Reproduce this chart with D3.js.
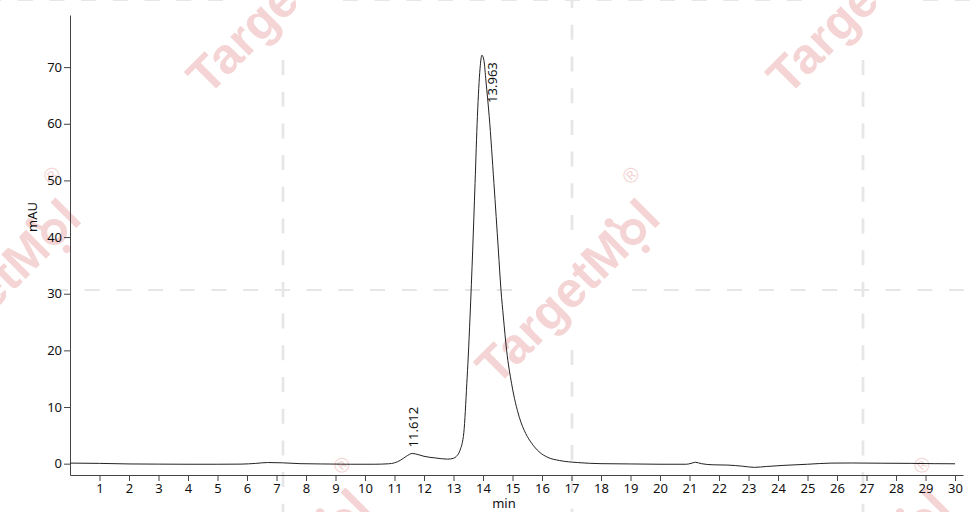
<!DOCTYPE html>
<html>
<head>
<meta charset="utf-8">
<script src="https://cdn.jsdelivr.net/npm/d3@7"></script>
<style>
  body { margin: 0; background: #fff; }
  svg { display: block; font-family: "Noto Sans", sans-serif; }
</style>
</head>
<body>
<div id="chart"></div>
<script>
// chromatogram trace (min, mAU)
const retentionTimes = [0, 1, 2, 3, 4, 5, 5.8, 6.3, 6.7, 7.2, 7.8, 8.5, 9.5, 10.3, 10.8,
  11.0, 11.2, 11.4, 11.6, 11.8, 12.0, 12.4, 12.8, 13.0, 13.1, 13.22, 13.35, 13.45, 13.5,
  13.56, 13.65, 13.73, 13.81, 13.9, 13.963, 14.03, 14.1, 14.21, 14.37, 14.52, 14.61, 14.69,
  14.8, 14.97, 15.23, 15.45, 15.65, 15.9, 16.2, 16.6, 17.2, 18, 19, 20, 20.9, 21.05, 21.2,
  21.4, 21.8, 22.3, 22.8, 23.2, 23.6, 24.2, 25, 25.8, 26.5, 27.5, 28.5, 29.3, 30];
const absorbance = [0.1, 0.05, -0.05, -0.08, -0.1, -0.1, -0.08, 0.05, 0.2, 0.15, 0.0,
  -0.05, -0.1, -0.1, -0.02, 0.15, 0.6, 1.3, 1.8, 1.6, 1.3, 1.0, 0.8, 0.95, 1.3, 2.35,
  5.5, 14.1, 19, 25.9, 37.7, 49.5, 61.3, 69.8, 72.1, 71.2, 67.5, 61.3, 49.5, 37.7, 30.6,
  25.9, 20, 14.1, 8.2, 5.3, 3.6, 2.1, 1.1, 0.55, 0.2, 0.0, -0.05, -0.1, -0.1, 0.05, 0.25,
  0.0, -0.2, -0.25, -0.45, -0.65, -0.5, -0.3, -0.1, 0.1, 0.12, 0.08, 0.05, 0.0, -0.02];

const peakTimes = [11.612, 13.963];
const peakHeights = [1.8, 72.1];
const peakLabels = ['11.612', '13.963'];

const xTicks = d3.range(1, 31);
const yTicks = [0, 10, 20, 30, 40, 50, 60, 70];

const svgWidth = 976;
const svgHeight = 512;

const svg = d3.select('#chart')
  .append('svg')
  .attr('width', svgWidth)
  .attr('height', svgHeight);

// --- watermark: grey dashed cross lines + pink "TargetMol" ---
const wmSpots = [[283, 0], [863, 0], [572, 290], [-7, 290], [283, 580], [863, 580]];
const gapR = 60;
const wmColor = '#f4d4d4';
const dashColor = '#e6e6e6';

const wmLines = [
  // [x1, y1, x2, y2] : drawn from the gap edge outward so the dashes start there
  [283, gapR, 283, 580 - gapR],
  [863, gapR, 863, 580 - gapR],
  [572, 290 - gapR, 572, -5],
  [572, 290 + gapR, 572, 520],
  [283 - gapR, 0, -5, 0],
  [283 + gapR, 0, 863 - gapR, 0],
  [863 + gapR, 0, 990, 0],
  [-7 + gapR, 290, 572 - gapR, 290],
  [572 + gapR, 290, 990, 290]
];

const bg = svg.append('g').attr('class', 'watermark');
bg.selectAll('line')
  .data(wmLines)
  .enter()
  .append('line')
  .attr('x1', d => d[0]).attr('y1', d => d[1])
  .attr('x2', d => d[2]).attr('y2', d => d[3])
  .attr('stroke', dashColor)
  .attr('stroke-width', d => d[0] === d[2] ? 2.7 : 2)
  .attr('stroke-dasharray', '15 16.7');

const wmFont = 50;
wmSpots.forEach(([cx, cy]) => {
  const g = bg.append('g')
    .attr('transform', `translate(${cx - 5},${cy + 1}) rotate(-45)`)
    .attr('fill', wmColor)
    .style('font-family', '"Liberation Sans", Arial, sans-serif')
    .style('font-weight', 'bold')
    .style('font-size', wmFont + 'px');

  const t1 = g.append('text').text('TargetM');
  const t2 = g.append('text').text('l');
  const w1 = t1.node().getComputedTextLength();
  const w2 = t2.node().getComputedTextLength();
  const oW = wmFont * 0.6;
  const total = w1 + oW + w2;
  const x0 = -total / 2;
  const base = wmFont * 0.36;

  t1.attr('x', x0).attr('y', base);
  t2.attr('x', x0 + w1 + oW).attr('y', base);

  // the molecule-like "o"
  const ox = x0 + w1 + oW / 2;
  const oy = base - wmFont * 0.26;
  const r = wmFont * 0.2;
  g.append('circle').attr('cx', ox).attr('cy', oy).attr('r', r)
    .attr('fill', 'none').attr('stroke', wmColor).attr('stroke-width', wmFont * 0.12);
  g.append('line')
    .attr('x1', ox - r * 0.5).attr('y1', oy - r * 0.9)
    .attr('x2', ox - r * 1.0).attr('y2', oy - r * 2.2)
    .attr('stroke', wmColor).attr('stroke-width', wmFont * 0.08);
  g.append('circle').attr('cx', ox - r * 1.05).attr('cy', oy - r * 2.35).attr('r', wmFont * 0.09);
  g.append('circle').attr('cx', ox - r * 0.3).attr('cy', oy + r * 2.1).attr('r', wmFont * 0.08);

  g.append('text')
    .attr('x', x0 + total + 2)
    .attr('y', base - wmFont * 0.95)
    .style('font-size', (wmFont * 0.42) + 'px')
    .style('font-weight', 'normal')
    .text('\u00AE');
});

// --- chart ---
const plotLeft = 70, plotRight = 963, plotTop = 15, plotBottom = 475;

const scaleX = d3.scaleLinear()
  .domain([0, 30.27])
  .range([plotLeft, plotRight]);

const scaleY = d3.scaleLinear()
  .domain([-2, 79.2])
  .range([plotBottom, plotTop]);

const xAxis = d3.axisBottom(scaleX)
  .tickValues(xTicks)
  .tickSize(6)
  .tickSizeOuter(0)
  .tickFormat(d3.format('d'));

const yAxis = d3.axisLeft(scaleY)
  .tickValues(yTicks)
  .tickSize(6)
  .tickSizeOuter(0)
  .tickFormat(d3.format('d'));

const gx = svg.append('g')
  .attr('id', 'x-axis')
  .attr('transform', `translate(0,${plotBottom})`)
  .call(xAxis);

const gy = svg.append('g')
  .attr('id', 'y-axis')
  .attr('transform', `translate(${plotLeft},0)`)
  .call(yAxis);

[gx, gy].forEach(g => {
  g.select('.domain').attr('stroke', '#444');
  g.selectAll('.tick line').attr('stroke', '#444');
  g.selectAll('.tick text')
    .attr('fill', '#111')
    .style('font-family', '"Noto Sans", sans-serif')
    .style('font-size', '13px');
});
gy.selectAll('.tick text').attr('x', -8);

svg.append('text')
  .attr('x', 504)
  .attr('y', 508)
  .attr('text-anchor', 'middle')
  .attr('fill', '#111')
  .style('font-size', '13px')
  .text('min');

svg.append('text')
  .attr('transform', 'translate(37,217) rotate(-90)')
  .attr('text-anchor', 'middle')
  .attr('fill', '#111')
  .style('font-size', '13px')
  .text('mAU');

const line = d3.line()
  .x((d, i) => scaleX(retentionTimes[i]))
  .y(d => scaleY(d))
  .curve(d3.curveMonotoneX);

svg.append('path')
  .datum(absorbance)
  .attr('fill', 'none')
  .attr('stroke', '#222')
  .attr('stroke-width', 1)
  .attr('d', line);

// peak labels, vertical
const labelOffsets = [[0, -6, 'start'], [10, 7, 'end']];
svg.selectAll('.peak-label')
  .data(peakLabels)
  .enter()
  .append('text')
  .attr('class', 'peak-label')
  .attr('transform', (d, i) => {
    const px = scaleX(peakTimes[i]) + labelOffsets[i][0];
    const py = scaleY(peakHeights[i]) + labelOffsets[i][1];
    return `translate(${px},${py}) rotate(-90)`;
  })
  .attr('text-anchor', (d, i) => labelOffsets[i][2])
  .attr('dominant-baseline', 'central')
  .attr('fill', '#111')
  .style('font-size', '13px')
  .text(d => d);
</script>
</body>
</html>
